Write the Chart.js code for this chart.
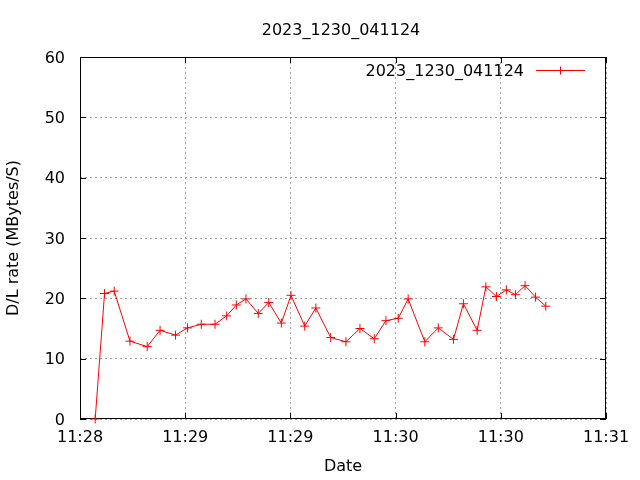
<!DOCTYPE html>
<html lang="en">
<head>
    <meta charset="UTF-8">
    <title>Chart</title>
    <style>
        body {
            margin: 0;
            padding: 0;
            background: #fff;
        }
    </style>
    <script src="https://cdn.jsdelivr.net/npm/chart.js@4/dist/chart.umd.min.js"></script>
</head>
<body>
<div>
    <canvas id="chart" width="640" height="480"></canvas>
</div>
<script>
    // seconds after 11:28:00
    const times = [5.2, 8.4, 11.7, 17.1, 23.0, 27.4, 32.7, 36.8, 41.5, 46.2,
        50.2, 53.5, 56.8, 61.0, 64.6, 68.9, 72.2, 76.9, 80.7, 85.8,
        91.0, 95.8, 100.7, 104.7, 108.9, 112.3, 118.0, 122.6, 127.8, 131.2,
        135.9, 138.9, 142.5, 145.9, 149.0, 152.3, 155.9, 159.4];
    const rates = [0, 20.8, 21.2, 12.9, 12.0, 14.7, 13.9, 15.1, 15.7, 15.7,
        17.1, 18.9, 19.9, 17.5, 19.3, 15.9, 20.5, 15.4, 18.4, 13.5,
        12.8, 15.0, 13.3, 16.3, 16.7, 19.9, 12.8, 15.1, 13.2, 19.1,
        14.7, 21.9, 20.3, 21.4, 20.6, 22.1, 20.2, 18.7];
    const xTickLabels = ['11:28', '11:29', '11:29', '11:30', '11:30', '11:31'];
    const seriesName = '2023_1230_041124';
    const chartTitle = '2023_1230_041124';

    const FONT = 'DejaVu Sans';
    Chart.defaults.font.family = FONT;
    Chart.defaults.font.size = 16;
    Chart.defaults.color = '#000';

    // gnuplot-like frame, inward ticks, title and key
    const gnuplotFrame = {
        id: 'gnuplotFrame',
        beforeDatasetsDraw(chart) {
            const ctx = chart.ctx, a = chart.chartArea;
            const xs = chart.scales.x, ys = chart.scales.y;
            ctx.save();
            ctx.strokeStyle = '#000';
            ctx.lineWidth = 1;
            ctx.strokeRect(Math.round(a.left) + 0.5, Math.round(a.top) + 0.5,
                Math.round(a.right - a.left) - 1, Math.round(a.bottom - a.top) - 1);
            ctx.beginPath();
            xs.ticks.forEach(t => {
                const x = Math.round(xs.getPixelForValue(t.value)) + 0.5;
                ctx.moveTo(x, a.bottom); ctx.lineTo(x, a.bottom - 6);
                ctx.moveTo(x, a.top); ctx.lineTo(x, a.top + 6);
            });
            ys.ticks.forEach(t => {
                const y = Math.round(ys.getPixelForValue(t.value)) + 0.5;
                ctx.moveTo(a.left, y); ctx.lineTo(a.left + 6, y);
                ctx.moveTo(a.right, y); ctx.lineTo(a.right - 6, y);
            });
            ctx.stroke();
            ctx.restore();
        },
        afterDraw(chart) {
            const ctx = chart.ctx, a = chart.chartArea;
            ctx.save();
            ctx.fillStyle = '#000';
            ctx.font = '16px ' + FONT;
            ctx.textBaseline = 'middle';
            ctx.textAlign = 'center';
            ctx.fillText(chartTitle, (a.left + a.right) / 2 - 2, 30.5);
            // key
            const ky = 70.5;
            ctx.textAlign = 'right';
            ctx.fillText(seriesName, 524, ky + 1);
            ctx.strokeStyle = '#ff0000';
            ctx.lineWidth = 1;
            ctx.beginPath();
            ctx.moveTo(536, ky); ctx.lineTo(585, ky);
            ctx.moveTo(560.5, ky - 4); ctx.lineTo(560.5, ky + 4);
            ctx.stroke();
            ctx.restore();
        }
    };

    const points = times.map((t, i) => ({ x: t, y: rates[i] }));

    new Chart(document.getElementById('chart'), {
        type: 'line',
        data: {
            datasets: [{
                label: seriesName,
                data: points,
                borderColor: '#ff0000',
                backgroundColor: '#ff0000',
                borderWidth: 1,
                pointStyle: 'cross',
                pointRadius: 4.5,
                pointBorderWidth: 1,
                pointBorderColor: '#ff0000',
                tension: 0,
                clip: false
            }]
        },
        options: {
            responsive: false,
            animation: false,
            layout: { padding: { top: 57, right: 34, left: 0, bottom: 0 } },
            plugins: {
                legend: { display: false },
                title: { display: false },
                tooltip: { enabled: false }
            },
            scales: {
                x: {
                    type: 'linear',
                    min: 0,
                    max: 180,
                    afterFit: s => { s.height = 61; },
                    ticks: {
                        stepSize: 36,
                        padding: 9,
                        maxRotation: 0,
                        callback: (v, i) => xTickLabels[i]
                    },
                    grid: {
                        color: '#a0a0a0',
                        drawTicks: false,
                        lineWidth: 1
                    },
                    border: { display: false, dash: [2, 3] },
                    title: { display: true, text: 'Date', padding: { top: 0, bottom: 4 } }
                },
                y: {
                    min: 0,
                    max: 60,
                    afterFit: s => { s.width = 80; },
                    ticks: { stepSize: 10, padding: 15, labelOffset: 1.5 },
                    grid: {
                        color: '#a0a0a0',
                        drawTicks: false,
                        lineWidth: 1
                    },
                    border: { display: false, dash: [2, 3] },
                    title: { display: true, text: 'D/L rate (MBytes/S)', padding: { top: 4, bottom: 0 } }
                }
            }
        },
        plugins: [gnuplotFrame]
    });
</script>
</body>
</html>
